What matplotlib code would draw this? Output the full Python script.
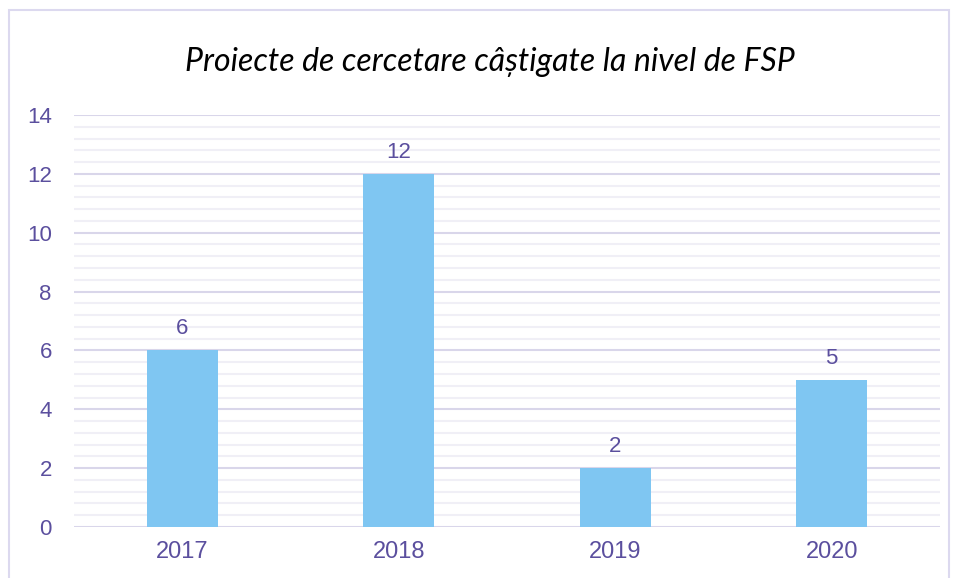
import matplotlib
matplotlib.use("Agg")
import matplotlib.pyplot as plt
from matplotlib.patches import Rectangle
from matplotlib.ticker import MultipleLocator

# ==========================================
# DATA
# ==========================================

years = ["2017", "2018", "2019", "2020"]
projects = [6, 12, 2, 5]

title = "Proiecte de cercetare câștigate la nivel de FSP"

bar_color = "#7fc6f2"
text_color = "#5b4f9e"
major_grid = "#d9d6ea"
minor_grid = "#f0eff6"

# ==========================================
# FIGURE
# ==========================================

fig = plt.figure(figsize=(9.56, 5.78), dpi=100)
W, H = 956, 578

# outer frame
fig.patches.append(Rectangle((9 / W, -0.05), 940 / W, 1 - 10 / H + 0.05,
                             transform=fig.transFigure, fill=False,
                             edgecolor="#dcd9ef", linewidth=1.5))

ax = fig.add_axes([74 / W, 1 - 527 / H, 866 / W, 412 / H])

x = range(len(years))
bars = ax.bar(x, projects, width=0.33, color=bar_color, zorder=3)

ax.set_xlim(-0.5, len(years) - 0.5)
ax.set_ylim(0, 14)
ax.yaxis.set_major_locator(MultipleLocator(2))
ax.yaxis.set_minor_locator(MultipleLocator(0.4))
ax.grid(axis="y", which="major", color=major_grid, linewidth=1.5, zorder=1)
ax.grid(axis="y", which="minor", color=minor_grid, linewidth=1.5, zorder=0)

ax.set_xticks(list(x))
ax.set_xticklabels(years)
for s in ax.spines.values():
    s.set_visible(False)
ax.tick_params(axis="both", which="both", length=0, labelcolor=text_color)
ax.tick_params(axis="y", pad=16, labelsize=16)
ax.tick_params(axis="x", pad=10, labelsize=17)
for lab in ax.get_xticklabels() + ax.get_yticklabels():
    lab.set_fontfamily("Liberation Sans")

# value labels
for b, v in zip(bars, projects):
    ax.annotate(str(v), (b.get_x() + b.get_width() / 2, v),
                xytext=(0, 8), textcoords="offset points",
                ha="center", va="bottom", fontsize=16,
                color=text_color, family="Liberation Sans")

fig.text(490 / W, 1 - 71 / H, title, ha="center", va="baseline",
         fontsize=23, style="italic", family="Lato", color="black")

fig.savefig("out.png", dpi=100)
